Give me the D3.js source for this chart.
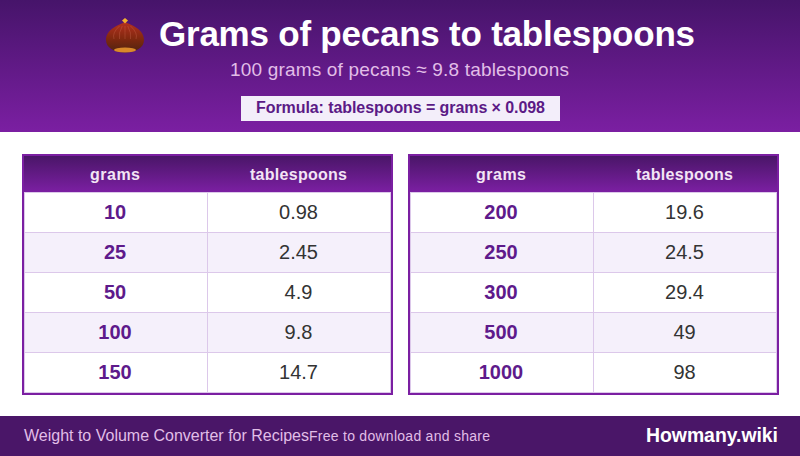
<!DOCTYPE html>
<html><head><meta charset="utf-8">
<script src="https://cdn.jsdelivr.net/npm/d3@7"></script>
<style>html,body{margin:0;padding:0;background:#fff}svg{display:block}text{font-family:"Liberation Sans",Arial,sans-serif;text-rendering:optimizeSpeed}</style>
</head><body><div id="c"></div>
<script>
const columns = ["grams", "tablespoons"];
const gramsLeft = ["10", "25", "50", "100", "150"];
const tbspLeft = ["0.98", "2.45", "4.9", "9.8", "14.7"];
const gramsRight = ["200", "250", "300", "500", "1000"];
const tbspRight = ["19.6", "24.5", "29.4", "49", "98"];
const titleText = "Grams of pecans to tablespoons";
const subtitleText = "100 grams of pecans ≈ 9.8 tablespoons";
const formulaText = "Formula: tablespoons = grams × 0.098";
const footerLeft = "Weight to Volume Converter for Recipes";
const footerMid = "Free to download and share";
const brand = "Howmany.wiki";

const W = 800, H = 456, LINE = "#dcc8ea";
const svg = d3.select("#c").append("svg").attr("width", W).attr("height", H).attr("viewBox", `0 0 ${W} ${H}`);
const defs = svg.append("defs");
function grad(id, stops){
  const g = defs.append("linearGradient").attr("id", id).attr("x1",0).attr("y1",0).attr("x2",0).attr("y2",1);
  stops.forEach(s => g.append("stop").attr("offset", s[0]).attr("stop-color", s[1]));
}
grad("hdr", [[0,"#46146a"],[1,"#7b1fa2"]]);
grad("thd", [[0,"#4a1668"],[1,"#7b1fa2"]]);
grad("nut", [[0,"#b5301f"],[0.55,"#80280f"],[1,"#4f2410"]]);

svg.append("rect").attr("width", W).attr("height", 132).attr("fill", "url(#hdr)");

const ic = svg.append("g").attr("transform", "translate(125,37)");
ic.append("path").attr("d","M0,-15 C6,-12 19,-8 19,3 C19,11 11,15 0,15.5 C-11,15 -19,11 -19,3 C-19,-8 -6,-12 0,-15Z").attr("fill","url(#nut)");
ic.append("ellipse").attr("cx",0).attr("cy",13).attr("rx",11).attr("ry",2.5).attr("fill","#d9892a");
[-11,-5.5,0,5.5,11].forEach(dx => ic.append("path").attr("d",`M${dx*0.5},-11 Q${dx*1.2},-4 ${dx},2`).attr("stroke","#d97a60").attr("stroke-width",1).attr("fill","none").attr("opacity",.28));
ic.append("path").attr("d","M0,-19 L3,-16.5 L0,-13.5 L-3,-16.5Z").attr("fill","#f2b02e");

svg.append("text").attr("x",159).attr("y",46).attr("font-size",35).attr("font-weight",700).attr("fill","#fff").attr("textLength",536).attr("lengthAdjust","spacing").text(titleText);
svg.append("text").attr("x",230).attr("y",76).attr("font-size",19).attr("fill","#e1bee7").attr("textLength",339).attr("lengthAdjust","spacing").text(subtitleText);
svg.append("rect").attr("x",241).attr("y",96).attr("width",319).attr("height",25).attr("fill","#f3eefa");
svg.append("text").attr("x",256).attr("y",113).attr("font-size",16).attr("font-weight",700).attr("fill","#5b1a86").attr("textLength",289).attr("lengthAdjust","spacing").text(formulaText);

function table(x0, grams, tbsp){
  const g = svg.append("g").attr("transform", `translate(${x0},0)`);
  const tw = 367;
  const colX = d3.scaleOrdinal().domain(columns).range([0, 183]);
  const colW = d3.scaleOrdinal().domain(columns).range([183, 184]);
  const y = d3.scaleBand().domain(d3.range(grams.length)).range([192, 392]);
  g.append("rect").attr("x",1).attr("y",155).attr("width",tw+2).attr("height",239).attr("fill","#fff").attr("stroke","#7b1fa2").attr("stroke-width",2);
  g.append("rect").attr("x",2).attr("y",156).attr("width",tw).attr("height",36).attr("fill","url(#thd)");
  columns.forEach((c,i) => g.append("text").attr("x",2+colX(c)+colW(c)/2-0.5).attr("y",179.5).attr("text-anchor","middle").attr("font-size",16).attr("font-weight",700).attr("fill","#f3e5f5").attr("textLength",i?97:50).attr("lengthAdjust","spacing").text(c));
  const data = grams.map((d,i)=>({g:d,t:tbsp[i],i}));
  g.selectAll("rect.bg").data(data).join("rect").attr("class","bg").attr("x",2).attr("y",d=>y(d.i)).attr("width",tw).attr("height",y.bandwidth()).attr("fill",d=>d.i%2? "#f5f0fb":"#fff");
  g.selectAll("rect.h").data(d3.range(grams.length+1)).join("rect").attr("class","h").attr("x",2).attr("y",i=>192+i*y.bandwidth()).attr("width",tw).attr("height",1).attr("fill",LINE);
  [2,185,368].forEach(x => g.append("rect").attr("x",x).attr("y",192).attr("width",1).attr("height",201).attr("fill",LINE));
  g.selectAll("text.g").data(data).join("text").attr("class","g").attr("x",2+91).attr("y",d=>y(d.i)+26.5).attr("text-anchor","middle").attr("font-size",20).attr("font-weight",700).attr("fill","#5e1a8b").text(d=>d.g);
  g.selectAll("text.t").data(data).join("text").attr("class","t").attr("x",2+183+91.5).attr("y",d=>y(d.i)+26.5).attr("text-anchor","middle").attr("font-size",20).attr("fill","#333").text(d=>d.t);
}
table(22, gramsLeft, tbspLeft);
table(408, gramsRight, tbspRight);

svg.append("rect").attr("y",416).attr("width",W).attr("height",40).attr("fill","#4a1668");
svg.append("text").attr("x",24).attr("y",441).attr("font-size",16).attr("fill","#e1bee7").attr("textLength",285).attr("lengthAdjust","spacing").text(footerLeft);
svg.append("text").attr("x",309).attr("y",441).attr("font-size",14).attr("fill","#e1bee7").attr("textLength",181).attr("lengthAdjust","spacing").text(footerMid);
svg.append("text").attr("x",646).attr("y",442).attr("font-size",19.4).attr("font-weight",700).attr("fill","#fff").attr("textLength",132).attr("lengthAdjust","spacing").text(brand);
</script></body></html>
